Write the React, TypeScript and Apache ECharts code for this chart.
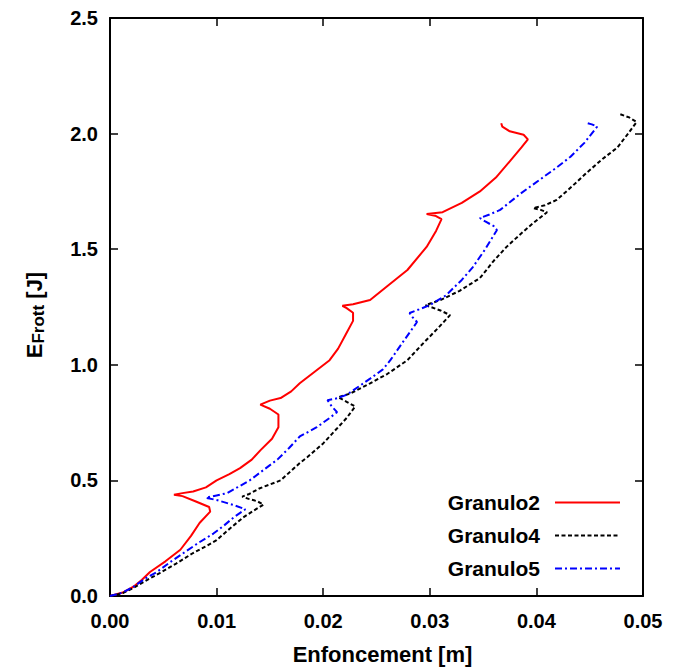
import React, { useEffect, useRef } from "react";
import * as echarts from "echarts";

const seriesNames = ["Granulo2", "Granulo4", "Granulo5"];

const granulo2: [number, number][] = [
  [0, 0], [0.0012, 0.015], [0.0022, 0.04], [0.003, 0.07], [0.00375, 0.104], [0.0052, 0.15],
  [0.0066, 0.2], [0.0076, 0.26], [0.0084, 0.316], [0.0094, 0.365], [0.0093, 0.385], [0.008, 0.41],
  [0.0068, 0.432], [0.006, 0.438], [0.0068, 0.445], [0.0078, 0.452], [0.009, 0.47], [0.01, 0.5],
  [0.0112, 0.527], [0.0122, 0.553], [0.0133, 0.59], [0.0141, 0.63], [0.0152, 0.68], [0.0158, 0.73],
  [0.0158, 0.785], [0.015, 0.81], [0.0141, 0.828], [0.015, 0.845], [0.016, 0.856], [0.017, 0.885],
  [0.0178, 0.92], [0.0192, 0.97], [0.0206, 1.02], [0.0214, 1.07], [0.0221, 1.13], [0.0228, 1.19],
  [0.0228, 1.225], [0.0222, 1.245], [0.0218, 1.255], [0.0228, 1.262], [0.0244, 1.28], [0.026, 1.34],
  [0.0279, 1.41], [0.0297, 1.51], [0.0306, 1.58], [0.0311, 1.63], [0.0305, 1.645], [0.0297, 1.652],
  [0.0312, 1.66], [0.033, 1.7], [0.0347, 1.75], [0.0362, 1.81], [0.0375, 1.88], [0.0386, 1.94],
  [0.0392, 1.975], [0.0388, 1.995], [0.0375, 2.01], [0.0368, 2.03], [0.0367, 2.045],
];

const granulo4: [number, number][] = [
  [0, 0], [0.0012, 0.012], [0.0022, 0.035], [0.0035, 0.07], [0.0047, 0.1], [0.0062, 0.14],
  [0.0078, 0.186], [0.009, 0.215], [0.01, 0.242], [0.0112, 0.29], [0.0125, 0.34], [0.0135, 0.37],
  [0.0144, 0.395], [0.0138, 0.41], [0.013, 0.42], [0.0124, 0.43], [0.013, 0.44], [0.014, 0.465],
  [0.016, 0.5], [0.0178, 0.575], [0.0185, 0.6], [0.02, 0.66], [0.0212, 0.72], [0.0222, 0.77],
  [0.023, 0.82], [0.0222, 0.84], [0.0214, 0.86], [0.0225, 0.875], [0.0244, 0.92], [0.026, 0.96],
  [0.0279, 1.02], [0.0294, 1.094], [0.0308, 1.16], [0.0319, 1.215], [0.031, 1.235], [0.0296, 1.258],
  [0.031, 1.28], [0.0328, 1.32], [0.0347, 1.375], [0.036, 1.45], [0.0372, 1.51], [0.0385, 1.565],
  [0.0397, 1.613], [0.041, 1.66], [0.0404, 1.67], [0.0397, 1.678], [0.0408, 1.69], [0.0419, 1.713],
  [0.0433, 1.77], [0.0447, 1.83], [0.0462, 1.89], [0.0476, 1.94], [0.0486, 2.0], [0.0494, 2.05],
  [0.0487, 2.07], [0.0478, 2.085],
];

const granulo5: [number, number][] = [
  [0, 0], [0.0012, 0.015], [0.0022, 0.04], [0.0033, 0.075], [0.0044, 0.104], [0.0056, 0.145],
  [0.0069, 0.186], [0.0083, 0.23], [0.0097, 0.27], [0.0107, 0.305], [0.0116, 0.34], [0.0127, 0.375],
  [0.0115, 0.395], [0.01, 0.415], [0.009, 0.425], [0.01, 0.435], [0.011, 0.445], [0.0131, 0.5],
  [0.0144, 0.545], [0.0157, 0.59], [0.0168, 0.64], [0.0178, 0.69], [0.0194, 0.73], [0.0206, 0.77],
  [0.0213, 0.795], [0.0208, 0.82], [0.0204, 0.847], [0.0213, 0.855], [0.0222, 0.87], [0.0244, 0.94],
  [0.0256, 0.98], [0.0263, 1.02], [0.0275, 1.1], [0.0288, 1.185], [0.0284, 1.205], [0.0281, 1.224],
  [0.029, 1.24], [0.03, 1.258], [0.0315, 1.3], [0.033, 1.367], [0.034, 1.42], [0.0352, 1.5],
  [0.0363, 1.583], [0.036, 1.6], [0.0352, 1.62], [0.0347, 1.635], [0.0356, 1.65], [0.0366, 1.67],
  [0.0385, 1.74], [0.0403, 1.8], [0.0418, 1.85], [0.0432, 1.9], [0.0445, 1.96], [0.0457, 2.03],
  [0.0452, 2.04], [0.0448, 2.045],
];

const xTickLabels = ["0.00", "0.01", "0.02", "0.03", "0.04", "0.05"];
const yTickLabels = ["0.0", "0.5", "1.0", "1.5", "2.0", "2.5"];

const FONT = "'Liberation Sans', Arial, sans-serif";

export default function App() {
  const ref = useRef<HTMLDivElement>(null);
  useEffect(() => {
    if (!ref.current) return;
    const chart = echarts.init(ref.current, null, { renderer: "svg" });
    const axisLine = { show: true, onZero: false, lineStyle: { color: "#000", width: 2 } };
    const axisTick = { show: true, inside: true, length: 8, lineStyle: { color: "#000", width: 1.5 } };
    chart.setOption({
      animation: false,
      backgroundColor: "#fff",
      grid: { left: 110, right: 30, top: 18, bottom: 74, containLabel: false },
      xAxis: [
        {
          type: "value", min: 0, max: 0.05, interval: 0.01,
          axisLine, axisTick, splitLine: { show: false },
          axisLabel: {
            margin: 15, color: "#000", fontSize: 20, fontWeight: "bold", fontFamily: FONT,
            formatter: (v: number) => xTickLabels[Math.round(v / 0.01)] ?? "",
          },
          name: "Enfoncement [m]", nameLocation: "middle", nameGap: 47,
          nameTextStyle: { color: "#000", fontSize: 22, fontWeight: "bold", fontFamily: FONT, padding: [0, 0, 0, 12] },
        },
        {
          type: "value", position: "top", min: 0, max: 0.05, interval: 0.01,
          axisLine, axisTick, axisLabel: { show: false }, splitLine: { show: false },
        },
      ],
      yAxis: [
        {
          type: "value", min: 0, max: 2.5, interval: 0.5,
          axisLine, axisTick, splitLine: { show: false },
          axisLabel: {
            margin: 12, color: "#000", fontSize: 20, fontWeight: "bold", fontFamily: FONT,
            formatter: (v: number) => yTickLabels[Math.round(v / 0.5)] ?? "",
          },
        },
        {
          type: "value", position: "right", min: 0, max: 2.5, interval: 0.5,
          axisLine, axisTick, axisLabel: { show: false }, splitLine: { show: false },
        },
      ],
      legend: {
        orient: "vertical", right: 47, bottom: 86, align: "right",
        itemWidth: 65, itemHeight: 14, itemGap: 12,
        itemStyle: { opacity: 0 },
        textStyle: { color: "#000", fontSize: 21, fontWeight: "bold", fontFamily: FONT, padding: [0, 10, 0, 0] },
        data: seriesNames,
      },
      graphic: [
        {
          type: "text", x: 34, y: 315, rotation: Math.PI / 2,
          style: {
            text: "{e|E}{s|Frott}{e| [J]}",
            align: "center", verticalAlign: "middle", fill: "#000",
            rich: {
              e: { fontSize: 22, fontWeight: "bold", fontFamily: FONT, fill: "#000" },
              s: { fontSize: 17, fontWeight: "bold", fontFamily: FONT, fill: "#000", padding: [9, 0, 0, 0] },
            },
          },
        },
      ],
      series: [
        {
          name: seriesNames[0], type: "line", data: granulo2, showSymbol: false, symbol: "none",
          lineStyle: { color: "#ff0000", width: 2 }, itemStyle: { color: "#ff0000" },
        },
        {
          name: seriesNames[1], type: "line", data: granulo4, showSymbol: false, symbol: "none",
          lineStyle: { color: "#000000", width: 2, type: [4, 2.5] }, itemStyle: { color: "#000" },
        },
        {
          name: seriesNames[2], type: "line", data: granulo5, showSymbol: false, symbol: "none",
          lineStyle: { color: "#0000ff", width: 2, type: [7, 3, 2, 3] }, itemStyle: { color: "#0000ff" },
        },
      ],
    });
    return () => chart.dispose();
  }, []);
  return <div ref={ref} style={{ position: "fixed", left: 0, top: 0, width: 673, height: 670 }} />;
}
